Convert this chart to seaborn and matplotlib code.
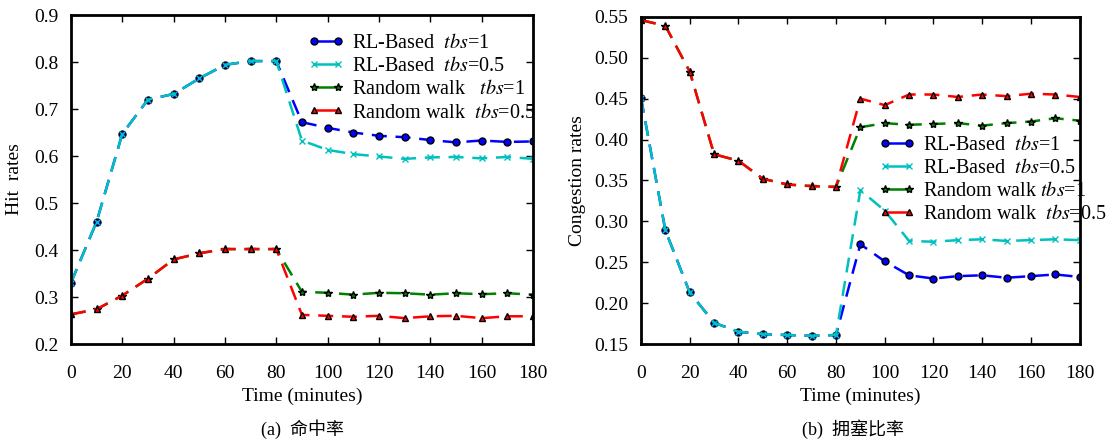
import numpy as np
import pandas as pd
import matplotlib
matplotlib.use("Agg")
import matplotlib.pyplot as plt
import seaborn as sns

# ---- data ----
minutes = list(range(0, 181, 10))

hit_rl_1 = [0.330, 0.460, 0.647, 0.720, 0.732, 0.765, 0.794, 0.802, 0.802,
            0.672, 0.660, 0.650, 0.643, 0.640, 0.634, 0.629, 0.633, 0.630, 0.631]
hit_rl_05 = [0.330, 0.460, 0.647, 0.720, 0.732, 0.765, 0.794, 0.802, 0.802,
             0.633, 0.613, 0.604, 0.599, 0.594, 0.597, 0.598, 0.595, 0.598, 0.594]
hit_rw_1 = [0.263, 0.274, 0.303, 0.339, 0.380, 0.393, 0.402, 0.402, 0.402,
            0.311, 0.309, 0.305, 0.309, 0.308, 0.305, 0.308, 0.306, 0.308, 0.305]
hit_rw_05 = [0.263, 0.274, 0.303, 0.339, 0.380, 0.393, 0.402, 0.402, 0.402,
             0.262, 0.260, 0.258, 0.260, 0.255, 0.259, 0.260, 0.255, 0.259, 0.259]

cong_rl_1 = [0.451, 0.289, 0.213, 0.176, 0.165, 0.162, 0.161, 0.160, 0.161,
             0.272, 0.251, 0.234, 0.230, 0.233, 0.234, 0.231, 0.233, 0.235, 0.232]
cong_rl_05 = [0.451, 0.289, 0.213, 0.176, 0.165, 0.162, 0.161, 0.160, 0.161,
              0.338, 0.313, 0.276, 0.275, 0.277, 0.278, 0.276, 0.277, 0.278, 0.277]
cong_rw_1 = [0.546, 0.539, 0.483, 0.382, 0.374, 0.352, 0.345, 0.343, 0.342,
             0.415, 0.420, 0.418, 0.419, 0.420, 0.417, 0.420, 0.422, 0.426, 0.423]
cong_rw_05 = [0.546, 0.539, 0.483, 0.382, 0.374, 0.352, 0.345, 0.343, 0.342,
              0.450, 0.442, 0.455, 0.455, 0.452, 0.455, 0.453, 0.456, 0.455, 0.452]

labels_a = ["RL-Based  $tbs$=1", "RL-Based  $tbs$=0.5",
            "Random walk   $tbs$=1", "Random walk  $tbs$=0.5"]
labels_b = ["RL-Based  $tbs$=1", "RL-Based  $tbs$=0.5",
            "Random walk $tbs$=1", "Random walk  $tbs$=0.5"]

sns.set_style("ticks")
plt.rcParams["font.family"] = ["Liberation Serif", "Noto Sans CJK SC"]
plt.rcParams["mathtext.fontset"] = "stix"
plt.rcParams["axes.linewidth"] = 2.0
plt.rcParams["axes.edgecolor"] = "black"
plt.rcParams["xtick.color"] = "black"
plt.rcParams["ytick.color"] = "black"
plt.rcParams["text.color"] = "black"
plt.rcParams["axes.labelcolor"] = "black"

styles = [
    dict(color="#0000ff", marker="o", markersize=5),
    dict(color="#00c0c0", marker="x", markersize=5),
    dict(color="#008000", marker="*", markersize=6),
    dict(color="#ff0000", marker="^", markersize=5),
]

fig = plt.figure(figsize=(11.08, 4.47), dpi=100)
ax1 = fig.add_axes([0.064, 0.2304, 0.417, 0.736])
ax2 = fig.add_axes([0.5785, 0.2304, 0.396, 0.732])


def draw(ax, series, labels):
    for ys, lab, st in zip(series, labels, styles):
        df = pd.DataFrame({"t": minutes, "v": ys})
        mec = st["color"] if st["marker"] == "x" else "black"
        sns.lineplot(data=df, x="t", y="v", ax=ax, label=lab,
                     color=st["color"], marker=st["marker"],
                     markersize=st["markersize"], markeredgecolor=mec,
                     markeredgewidth=1.0, linewidth=1.8,
                     linestyle=(0, (6, 3.5)))
    ax.set_xlim(0, 180)
    ax.set_xticks(range(0, 181, 20))
    ax.tick_params(direction="in", top=True, right=True, length=5, width=1,
                   labelsize=14)
    ax.tick_params(axis="x", pad=15)
    ax.tick_params(axis="y", pad=9)
    ax.set_xlabel("Time (minutes)", fontsize=14, labelpad=4)


draw(ax1, [hit_rl_1, hit_rl_05, hit_rw_1, hit_rw_05], labels_a)
ax1.set_ylim(0.2, 0.9)
ax1.set_yticks(np.arange(0.2, 0.91, 0.1))
ax1.set_yticklabels([f"{v:.1f}" for v in np.arange(0.2, 0.91, 0.1)])
ax1.set_ylabel("Hit  rates", fontsize=14, labelpad=8)

draw(ax2, [cong_rl_1, cong_rl_05, cong_rw_1, cong_rw_05], labels_b)
ax2.set_ylim(0.15, 0.55)
ax2.set_yticks(np.arange(0.15, 0.551, 0.05))
ax2.set_yticklabels([f"{v:.2f}" for v in np.arange(0.15, 0.551, 0.05)])
ax2.set_ylabel("Congestion rates", fontsize=14, labelpad=6)

for ax, anchor in [(ax1, (0.482, 0.985)), (ax2, (0.51, 0.68))]:
    leg = ax.legend(loc="upper left", bbox_to_anchor=anchor, frameon=False,
                    fontsize=14.5, numpoints=2, handlelength=1.8,
                    handletextpad=0.4, labelspacing=0.2, borderpad=0.2)
    for ln in leg.get_lines():
        ln.set_linestyle("-")

fig.text(0.273, 0.04, "(a)  命中率", ha="center", va="center", fontsize=13)
fig.text(0.77, 0.04, "(b)  拥塞比率", ha="center", va="center", fontsize=13)

fig.savefig("out.png", dpi=100)
